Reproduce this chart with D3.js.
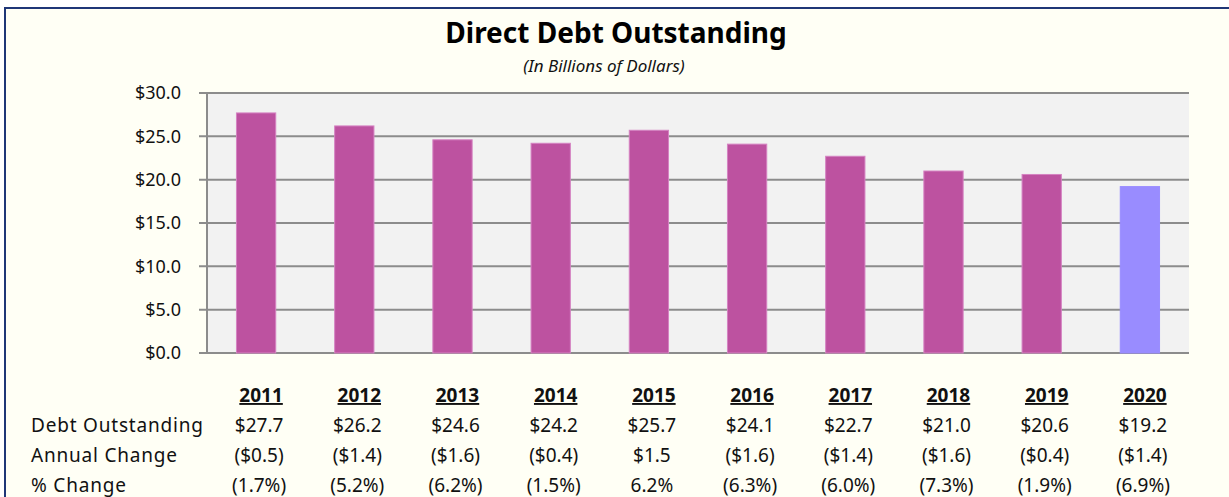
<!DOCTYPE html>
<html>
<head>
<meta charset="utf-8">
<script src="https://cdn.jsdelivr.net/npm/d3@7"></script>
<style>
  html, body { margin: 0; padding: 0; background: #ffffff; }
  svg { display: block; font-family: "Noto Sans", "Open Sans", sans-serif; }
</style>
</head>
<body>
<svg id="chart" width="1229" height="497"></svg>
<script>
// chart data
const years = ["2011", "2012", "2013", "2014", "2015", "2016", "2017", "2018", "2019", "2020"];
const debtOutstanding = [27.7, 26.2, 24.6, 24.2, 25.7, 24.1, 22.7, 21.0, 20.6, 19.2];
const annualChange = [-0.5, -1.4, -1.6, -0.4, 1.5, -1.6, -1.4, -1.6, -0.4, -1.4];
const pctChange = [-1.7, -5.2, -6.2, -1.5, 6.2, -6.3, -6.0, -7.3, -1.9, -6.9];
const yTicks = [0, 5, 10, 15, 20, 25, 30];
const rowLabels = ["Debt Outstanding", "Annual Change", "% Change"];

const W = 1229, H = 497;
const plot = { left: 207, right: 1189, top: 93, bottom: 353 };

const svg = d3.select("#chart");

// page background + navy frame (runs off right/bottom edge)
svg.append("rect").attr("x", 0).attr("y", 0).attr("width", W).attr("height", H).attr("fill", "#ffffff");
svg.append("rect")
    .attr("x", 5).attr("y", 8).attr("width", W + 20).attr("height", H + 20)
    .attr("fill", "#fffff5").attr("stroke", "#1f3677").attr("stroke-width", 2);

// title
svg.append("text")
    .attr("x", 616).attr("y", 43)
    .attr("text-anchor", "middle")
    .attr("font-size", 28).attr("font-weight", "bold").attr("fill", "#000")
    .text("Direct Debt Outstanding");

svg.append("text")
    .attr("x", 604).attr("y", 72)
    .attr("text-anchor", "middle")
    .attr("font-size", 17).attr("font-style", "italic").attr("fill", "#111")
    .text("(In Billions of Dollars)");

// scales
const x = d3.scaleBand()
    .domain(years)
    .range([plot.left, plot.right])
    .paddingInner(0.6)
    .paddingOuter(0.3);

const y = d3.scaleLinear()
    .domain([0, 30])
    .range([plot.bottom, plot.top]);

// plot background
svg.append("rect")
    .attr("x", plot.left).attr("y", plot.top)
    .attr("width", plot.right - plot.left).attr("height", plot.bottom - plot.top)
    .attr("fill", "#f2f2f2");

// y axis labels
const gY = svg.append("g").attr("transform", "translate(" + plot.left + ",0)");
gY.call(d3.axisLeft(y).tickValues(yTicks).tickSize(0).tickPadding(26)
    .tickFormat(d => "$" + d3.format(".1f")(d)));
gY.select(".domain").remove();
gY.selectAll("text").attr("font-size", 18).attr("fill", "#111")
    .attr("font-family", "\"Noto Sans\", sans-serif").attr("dy", "0.32em");

// gridlines (running a little left of the axis as tick marks)
svg.append("g").selectAll("line")
    .data(yTicks)
    .join("line")
    .attr("x1", plot.left - 8).attr("x2", plot.right)
    .attr("y1", d => y(d)).attr("y2", d => y(d))
    .attr("stroke", "#8c8c8c").attr("stroke-width", 2);

svg.append("line")
    .attr("x1", plot.left).attr("x2", plot.left)
    .attr("y1", plot.top).attr("y2", plot.bottom)
    .attr("stroke", "#8c8c8c").attr("stroke-width", 2);

// bars
svg.append("g").selectAll("rect")
    .data(years)
    .join("rect")
    .attr("x", d => x(d))
    .attr("width", x.bandwidth())
    .attr("y", (d, i) => y(debtOutstanding[i]))
    .attr("height", (d, i) => y(0) - y(debtOutstanding[i]))
    .attr("fill", (d, i) => i === years.length - 1 ? "#998cff" : "#bd52a0")
    .attr("stroke", (d, i) => i === years.length - 1 ? "#998cff" : "#d583c2")
    .attr("stroke-width", 1);

// data table below the chart
const colX = d => x(d) + x.bandwidth() / 2 + 5;
const rowY = [432, 462, 492];
const money = v => v < 0 ? "($" + d3.format(".1f")(-v) + ")" : "$" + d3.format(".1f")(v);
const pct = v => v < 0 ? "(" + d3.format(".1f")(-v) + "%)" : d3.format(".1f")(v) + "%";

const table = svg.append("g").attr("font-size", 19).attr("fill", "#111");

table.selectAll("text.hdr")
    .data(years)
    .join("text")
    .attr("class", "hdr")
    .attr("x", colX).attr("y", 402)
    .attr("text-anchor", "middle")
    .attr("font-weight", "bold")
    .attr("text-decoration", "underline")
    .text(d => d);

table.selectAll("text.lbl")
    .data(rowLabels)
    .join("text")
    .attr("class", "lbl")
    .attr("x", 31).attr("y", (d, i) => rowY[i])
    .attr("letter-spacing", 0.8)
    .text(d => d);

const rows = [
    debtOutstanding.map(money),
    annualChange.map(money),
    pctChange.map(pct)
];

rows.forEach((vals, r) => {
    table.append("g").selectAll("text")
        .data(vals)
        .join("text")
        .attr("x", (d, i) => colX(years[i]) - 2)
        .attr("y", rowY[r])
        .attr("text-anchor", "middle")
        .text(d => d);
});
</script>
</body>
</html>
